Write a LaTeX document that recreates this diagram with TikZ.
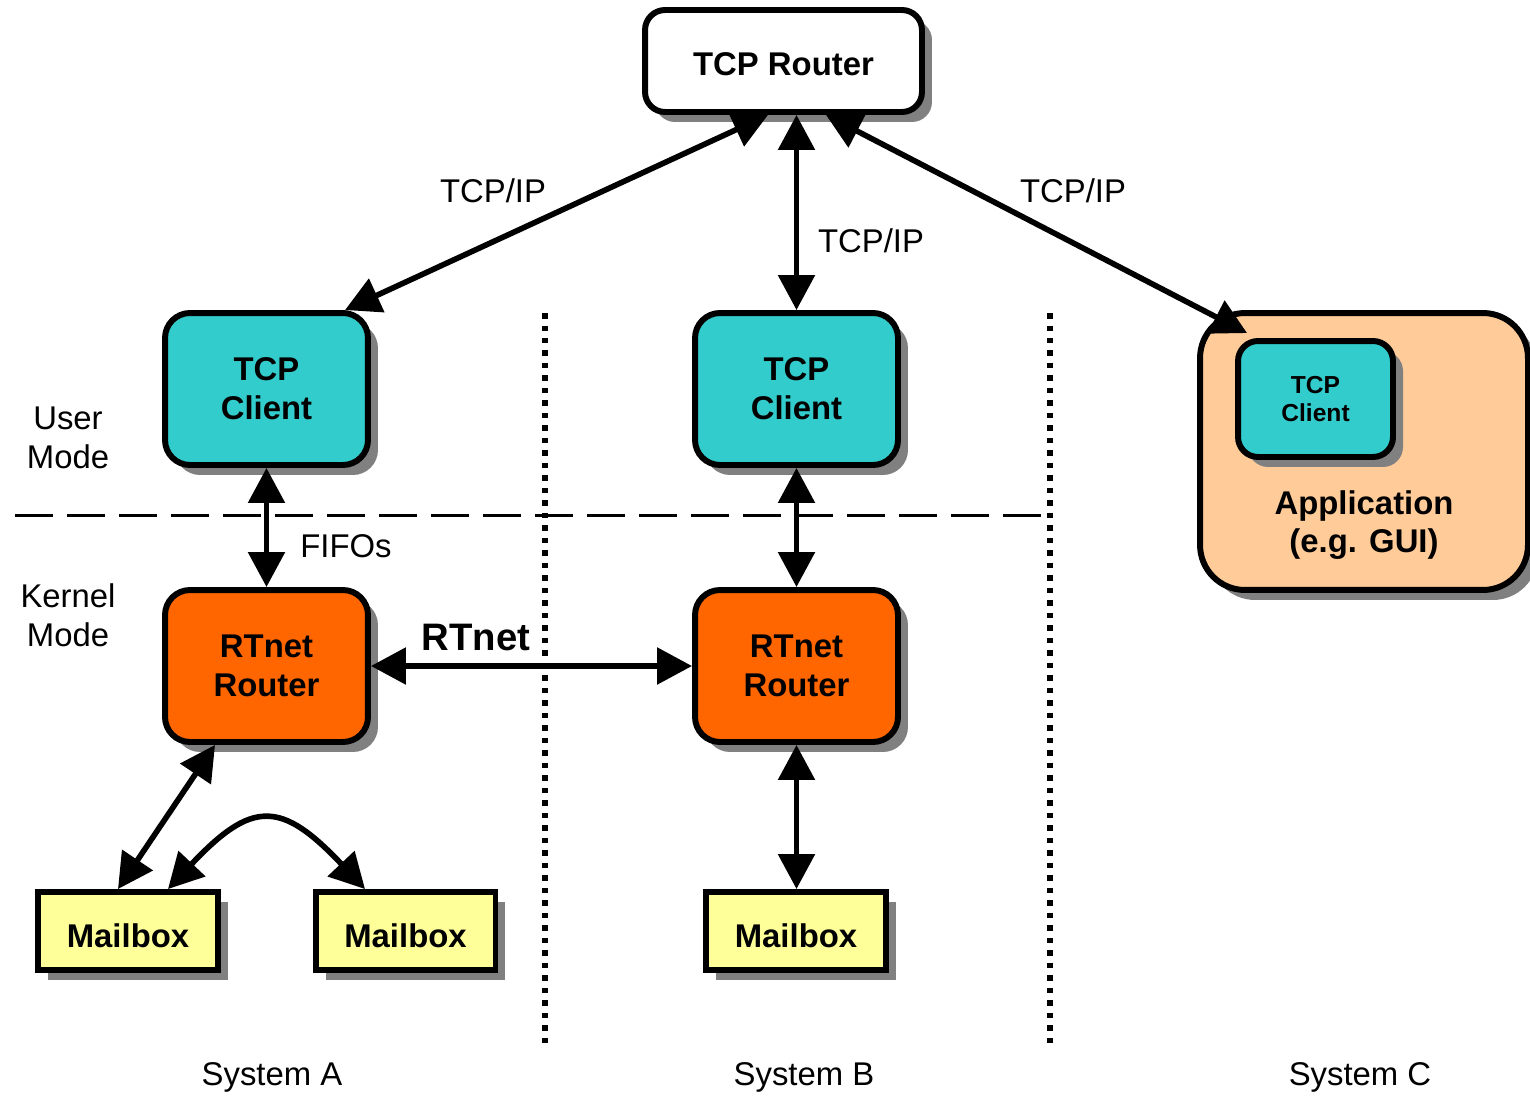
\documentclass[tikz,border=0pt]{standalone}
\usepackage{fontspec}
\setmainfont{Liberation Sans}
\usetikzlibrary{arrows.meta,shadows,calc}
\definecolor{cteal}{HTML}{33CCCC}
\definecolor{corange}{HTML}{FF6600}
\definecolor{cpeach}{HTML}{FFCC99}
\definecolor{cyellow}{HTML}{FFFF99}
\definecolor{cshadow}{HTML}{808080}
\begin{document}
\begin{tikzpicture}[x=0.02cm,y=-0.02cm,
  shad/.style={drop shadow={shadow xshift=0.2cm,shadow yshift=-0.2cm,fill=cshadow,opacity=1}},
  box/.style={draw=black,line width=3.4pt,rounded corners=0.5cm,inner sep=0pt,align=center,
    font=\bfseries\fontsize{18.7}{22}\selectfont,shad},
  client/.style={box,fill=cteal,minimum width=4.06cm,minimum height=3.04cm},
  rtrouter/.style={box,fill=corange,minimum width=4.06cm,minimum height=3.04cm},
  mailbox/.style={box,rounded corners=0pt,fill=cyellow,minimum width=3.6cm,minimum height=1.56cm,text height=0.64cm,text depth=0cm},
  lab/.style={font=\fontsize{18.7}{22}\selectfont,align=center,inner sep=0pt},
  arr/.style={{Triangle[length=0.7cm,width=0.72cm]}-{Triangle[length=0.7cm,width=0.72cm]},line width=3.2pt},
  dotline/.style={line width=0.11cm,dash pattern=on 0.11cm off 0.14cm},
  dashline/.style={line width=0.06cm,dash pattern=on 0.76cm off 0.28cm}]
\useasboundingbox (0,0) rectangle (1530,1095);

% separators
\coordinate (d1t) at (545,313); \coordinate (d1b) at (545,1045);
\coordinate (d2t) at (1050,313); \coordinate (d2b) at (1050,1045);
\coordinate (hl) at (15,515); \coordinate (hr) at (1050,515);
\draw[dashline] (hl) -- (hr);
\draw[dotline] (d1t) -- (d1b);
\draw[dotline] (d2t) -- (d2b);

% nodes
\node[box,fill=white,rounded corners=0.4cm,minimum width=5.54cm,minimum height=2.04cm,text height=0.6cm,text depth=0cm] (tcp) at (783.5,61) {TCP Router};
\node[client] (ca) at (266.5,389) {TCP\\Client};
\node[client] (cb) at (796.5,389) {TCP\\Client};
\node[rtrouter] (ra) at (266.5,666) {RTnet\\Router};
\node[rtrouter] (rb) at (796.5,666) {RTnet\\Router};
\node[box,fill=cpeach,rounded corners=0.9cm,minimum width=6.56cm,minimum height=5.54cm] (app) at (1364,451.5) {};
\node[box,fill=cteal,rounded corners=0.4cm,minimum width=3.1cm,minimum height=2.32cm,font=\bfseries\fontsize{14}{16}\selectfont] (cc) at (1315.5,399) {TCP\\Client};
\node[lab,font=\bfseries\fontsize{18.7}{22}\selectfont] (apptext) at (1364,525) {Application\\(e.g. GUI)};
\node[mailbox] (m1) at (128,931) {Mailbox};
\node[mailbox] (m2) at (405.5,931) {Mailbox};
\node[mailbox] (m3) at (796,931) {Mailbox};

% labels
\node[lab] (t1) at (493,191) {TCP/IP};
\node[lab] (t2) at (871,241) {TCP/IP};
\node[lab] (t3) at (1073,191) {TCP/IP};
\node[lab] (fifo) at (346,546) {FIFOs};
\node[lab,font=\bfseries\fontsize{21.8}{24}\selectfont] (rtn) at (476,638) {RTnet};
\node[lab] (um) at (68,438) {User\\Mode};
\node[lab] (km) at (68,615) {Kernel\\Mode};
\node[lab] (sa) at (272,1077) {System A};
\node[lab] (sb) at (804,1077) {System B};
\node[lab] (sc) at (1360,1077) {System C};

% connectors
\draw[arr] ([xshift=-0.31cm]tcp.south) -- ([xshift=1.57cm]ca.north);
\draw[arr] (tcp.south -| cb.north) -- (cb.north);
\draw[arr] ([xshift=0.85cm]tcp.south) -- ([xshift=1.0cm,yshift=-0.46cm]app.north west);
\draw[arr] (ca.south) -- (ra.north);
\draw[arr] (cb.south) -- (rb.north);
\draw[arr] (ra.east) -- (rb.west);
\draw[arr] ([xshift=-1.03cm]ra.south) -- ([xshift=-0.2cm]m1.north);
\draw[arr] ([xshift=0.8cm]m1.north) .. controls (252,800) and (281,800) .. ([xshift=-0.81cm]m2.north);
\draw[arr] (rb.south) -- (rb.south |- m3.north);
\end{tikzpicture}
\end{document}
